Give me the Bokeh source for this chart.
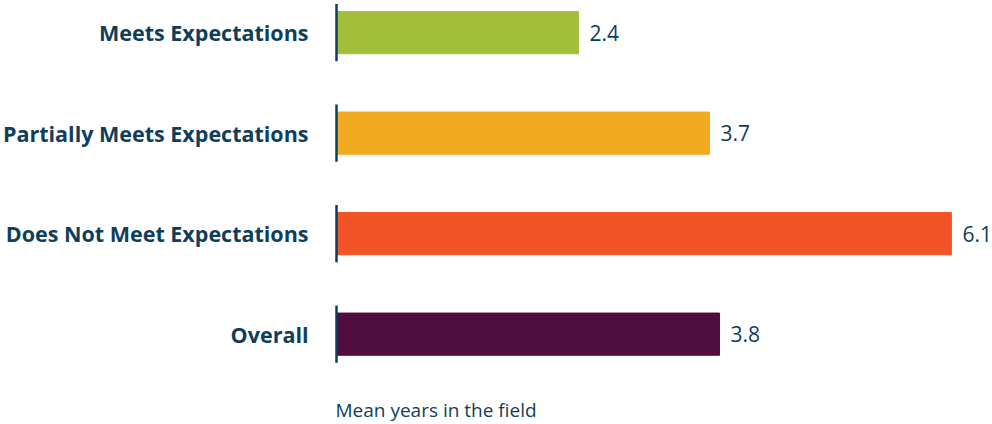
from bokeh.plotting import figure
from bokeh.models import Range1d, ColumnDataSource
from bokeh.embed import file_html
from bokeh.resources import INLINE
from bokeh.core.properties import value

categories = ["Meets Expectations", "Partially Meets Expectations",
              "Does Not Meet Expectations", "Overall"]
values = [2.4, 3.7, 6.1, 3.8]
colors = ["#A3BE3B", "#F2AA22", "#F15326", "#4F0E3F"]
value_labels = [f"{v:.1f}" for v in values]
axis_title = "Mean years in the field"

TEXT = "#0F3E5B"
W, H = 992, 424
px_per_unit = 100.8
zero_px = 336
x0 = -zero_px / px_per_unit
x1 = (W - zero_px) / px_per_unit

ypos = list(range(len(categories)))[::-1]
top = ypos[0] + 0.32
bottom = top - H / 100.5

src = ColumnDataSource(dict(cat=categories, val=values, y=ypos, color=colors,
                            vlab=value_labels,
                            y0=[y - 0.285 for y in ypos],
                            y1=[y + 0.285 for y in ypos],
                            zero=[0] * len(values)))

p = figure(width=W, height=H, output_backend="svg", toolbar_location=None,
           x_range=Range1d(x0, x1), y_range=Range1d(bottom, top),
           min_border=0, min_border_left=0, min_border_right=0,
           min_border_top=0, min_border_bottom=0)
p.axis.visible = False
p.grid.visible = False
p.outline_line_color = None
p.background_fill_color = "white"

p.hbar(y="y", left=0, right="val", height=0.42, color="color", source=src)
p.segment(x0="zero", y0="y0", x1="zero", y1="y1", line_color=TEXT,
          line_width=2.5, source=src)

p.text(x="zero", y="y", text="cat", x_offset=-28, text_align="right",
       text_baseline="middle", text_font=value("Open Sans"),
       text_font_style="bold", text_font_size="21.5px", text_color=TEXT,
       source=src)
p.text(x="val", y="y", text="vlab", x_offset=11, text_align="left",
       text_baseline="middle", text_font=value("Open Sans"),
       text_font_size="21px", text_color=TEXT, source=src)
p.text(x=[0], y=[ypos[-1] - 0.75], text=[axis_title], x_offset=-1,
       text_align="left", text_baseline="middle", text_font=value("Open Sans"),
       text_font_size="19px", text_color=TEXT)

open("out.html", "w").write(file_html(p, INLINE))
